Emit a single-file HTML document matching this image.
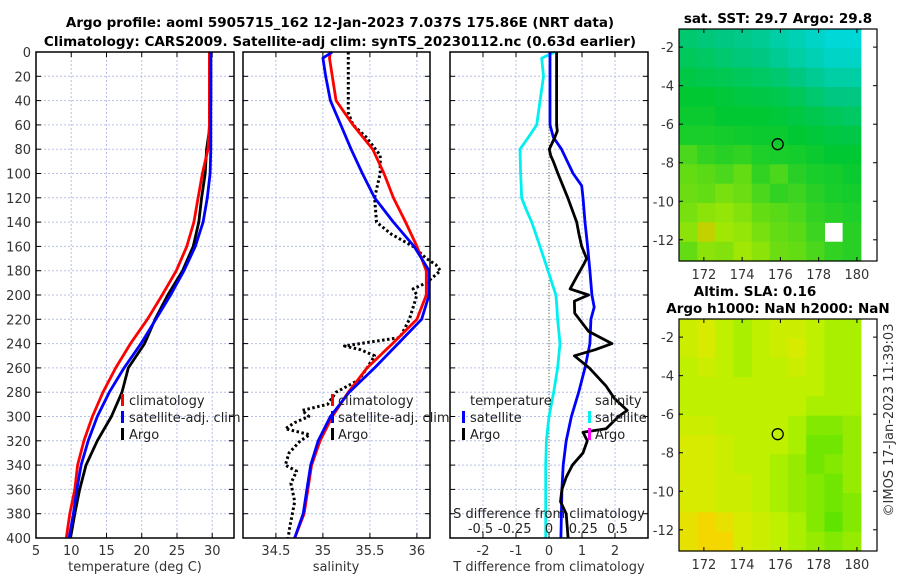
<!DOCTYPE html>
<html><head><meta charset="utf-8">
<style>
html,body{margin:0;padding:0;background:#fff;}
svg{display:block;font-family:"DejaVu Sans","Liberation Sans",sans-serif;}
.tk{font-size:13px;fill:#333;}
.ttl{font-size:13.5px;font-weight:bold;fill:#000;}
.lg{font-size:13px;fill:#222;}
</style></head>
<body>
<svg id="fig" width="900" height="580" viewBox="0 0 900 580" xmlns="http://www.w3.org/2000/svg">
<text class="ttl" x="340" y="27" text-anchor="middle">Argo profile: aoml 5905715_162 12-Jan-2023 7.037S 175.86E (NRT data)</text>
<text class="ttl" x="340" y="46" text-anchor="middle">Climatology: CARS2009. Satellite-adj clim: synTS_20230112.nc (0.63d earlier)</text>
<text class="ttl" x="778" y="23" text-anchor="middle">sat. SST: 29.7 Argo: 29.8</text>
<text class="ttl" x="755" y="296" text-anchor="middle">Altim. SLA: 0.16</text>
<text class="ttl" x="778" y="313" text-anchor="middle">Argo h1000: NaN h2000: NaN</text>
<text class="tk" x="0" y="0" transform="translate(893,420) rotate(-90)" text-anchor="middle">©IMOS 17-Jan-2023 11:39:03</text>
<g id="layer"></g>
</svg>
<script>
// ---------- data ----------
var depthsT = [0,20,40,60,80,100,120,140,160,180,200,220,240,260,280,300,320,340,360,380,400];
var tempClim = [29.6,29.6,29.6,29.6,29.4,28.6,28.0,27.4,26.4,24.9,22.9,20.8,18.4,16.3,14.5,13.0,11.8,10.9,10.5,9.8,9.3];
var tempSat  = [29.8,29.8,29.8,29.8,29.8,29.7,29.3,28.7,27.6,26.0,24.1,22.0,19.9,17.5,15.4,13.7,12.4,11.4,10.8,10.3,9.7];
var tempArgo = [29.8,29.8,29.8,29.7,29.2,29.0,28.5,28.1,27.3,25.8,23.7,21.9,20.4,18.1,17.2,15.7,13.7,12.1,11.2,10.5,9.9];

var depthsS = [0,5,20,40,60,80,100,120,140,160,180,200,220,240,260,280,300,320,340,360,380,400];
var salClim = [35.08,35.07,35.1,35.14,35.32,35.53,35.65,35.75,35.88,36.0,36.1,36.1,36.0,35.74,35.47,35.27,35.1,34.97,34.88,34.84,34.8,34.7];
var salSat  = [35.1,35.0,35.03,35.08,35.19,35.3,35.42,35.55,35.75,35.97,36.13,36.13,36.05,35.8,35.55,35.28,35.08,34.95,34.87,34.83,34.79,34.7];
var depthsSA = [0,50,60,70,85,100,120,140,150,160,170,175,180,190,195,200,220,235,242,245,250,260,270,280,290,295,300,305,310,315,320,330,340,345,355,370,390,400];
var salArgo  = [35.27,35.27,35.32,35.46,35.61,35.61,35.55,35.57,35.73,35.96,36.1,36.2,36.25,36.1,35.96,36.0,35.92,35.82,35.23,35.4,35.55,35.47,35.38,35.14,35.05,34.78,34.85,34.7,34.6,34.86,34.76,34.64,34.6,34.72,34.66,34.7,34.65,34.63];

var depthsD = [0,5,20,40,60,70,80,100,110,120,130,140,160,180,200,210,220,240,260,280,300,320,340,360,400];
var tDiffSat = [0.03,0.03,0.03,0.03,0.03,0.13,0.38,0.73,0.99,1.03,1.06,1.09,1.17,1.24,1.3,1.37,1.27,1.24,1.09,0.9,0.68,0.52,0.43,0.39,0.36];
var sDiffSat = [0.043,-0.053,-0.04,-0.065,-0.09,-0.15,-0.212,-0.207,-0.203,-0.2,-0.165,-0.126,-0.066,-0.007,0.05,0.058,0.063,0.08,0.063,0.034,0.0,-0.019,-0.024,-0.024,-0.024];
var depthsDA = [0,20,40,60,65,70,80,85,90,100,120,140,150,160,170,175,185,195,200,205,215,230,240,245,250,260,275,285,295,300,310,313,320,330,340,350,360,370,380,400];
var tDiffArgo = [0.23,0.23,0.23,0.23,0.25,0.18,0.01,0.05,0.13,0.27,0.57,0.84,0.91,0.99,1.14,1.05,0.84,0.64,1.2,0.77,0.78,1.2,1.91,1.4,0.77,1.22,1.73,1.98,2.37,2.11,1.73,1.03,1.16,1.03,0.71,0.52,0.39,0.35,0.52,0.58];

var tempTicks = [5,10,15,20,25,30];
var salTicks = [34.5,35,35.5,36];
var salTickLabels = ["34.5","35","35.5","36"];
var dTicks = [-2,-1,0,1,2];
var sdTicks = [-0.5,-0.25,0,0.25,0.5];
var sdTickLabels = ["-0.5","-0.25","0","0.25","0.5"];
var depthTicks = [0,20,40,60,80,100,120,140,160,180,200,220,240,260,280,300,320,340,360,380,400];

var lonTicks = [172,174,176,178,180];
var latTicks = [-2,-4,-6,-8,-10,-12];
var argoLon = 175.86, argoLat = -7.037;
var sstGrid = [
[29.25,29.22,29.2,29.18,29.15,29.1,29.05,29.0,28.95,28.95],
[29.3,29.28,29.25,29.22,29.2,29.15,29.1,29.05,29.0,29.0],
[29.35,29.33,29.32,29.3,29.28,29.25,29.2,29.15,29.1,29.1],
[29.4,29.4,29.38,29.36,29.35,29.33,29.3,29.25,29.2,29.2],
[29.42,29.42,29.4,29.4,29.4,29.38,29.36,29.33,29.3,29.28],
[29.45,29.45,29.44,29.43,29.42,29.42,29.4,29.38,29.36,29.35],
[29.55,29.5,29.48,29.5,29.46,29.45,29.44,29.42,29.4,29.4],
[29.6,29.58,29.55,29.6,29.5,29.55,29.48,29.45,29.44,29.42],
[29.62,29.6,29.65,29.62,29.55,29.5,29.52,29.48,29.45,29.44],
[29.65,29.7,29.72,29.68,29.6,29.58,29.55,29.5,29.48,29.46],
[29.7,29.85,29.75,29.72,29.65,29.6,29.58,29.52,null,29.48],
[29.6,29.7,29.68,29.75,29.7,29.62,29.6,29.55,29.5,29.48]];
var slaGrid = [
[.17,.18,.16,.15,.16,.17,.17,.16,.15,.15],
[.17,.18,.16,.15,.16,.17,.18,.16,.15,.15],
[.16,.17,.16,.15,.16,.16,.17,.16,.15,.15],
[.16,.16,.16,.16,.16,.16,.16,.16,.15,.15],
[.16,.16,.16,.16,.16,.16,.16,.15,.15,.15],
[.17,.17,.16,.16,.16,.16,.15,.13,.13,.14],
[.18,.18,.17,.16,.16,.16,.15,.12,.12,.14],
[.18,.18,.17,.16,.16,.15,.14,.12,.13,.14],
[.18,.18,.17,.17,.16,.15,.14,.13,.12,.14],
[.18,.18,.17,.17,.16,.15,.14,.13,.12,.13],
[.19,.20,.19,.18,.17,.16,.15,.13,.11,.13],
[.19,.20,.20,.18,.17,.16,.15,.14,.13,.14]];

// ---------- helpers ----------
var NS="http://www.w3.org/2000/svg";
var layer=document.getElementById('layer');
function mk(tag,attrs,parent){var e=document.createElementNS(NS,tag);for(var k in attrs)e.setAttribute(k,attrs[k]);(parent||layer).appendChild(e);return e;}
var TOP=52,BOT=538;
function yD(d){return TOP+(d/400)*(BOT-TOP);}
function xT(t){return 36+(t-5)*(234-36)/(33.09-5);}
function xS(s){return 243+(s-34.15)*94;}
function xD(v){return 549+v*33;}
function xSD(v){return 549+v*137;}

function panel(x0,x1,name,vx,vticks){
  var g=mk('g',{});
  
  
  depthTicks.forEach(function(d){
    if(d>0&&d<400){var l=mk('line',{x1:x0,x2:x1,y1:yD(d),y2:yD(d),stroke:'#b8c0e6','stroke-width':1,'stroke-dasharray':'2,2'},g);
    }
    mk('line',{x1:x0,x2:x0+5,y1:yD(d),y2:yD(d),stroke:'#000'},g);
    mk('line',{x1:x1-5,x2:x1,y1:yD(d),y2:yD(d),stroke:'#000'},g);
  });
  vticks.forEach(function(v){var x=vx(v);
    var l=mk('line',{x1:x,x2:x,y1:TOP,y2:BOT,stroke:'#b8c0e6','stroke-width':1,'stroke-dasharray':'2,2'},g);
    
    mk('line',{x1:x,x2:x,y1:BOT-5,y2:BOT,stroke:'#000'},g);
    mk('line',{x1:x,x2:x,y1:TOP,y2:TOP+5,stroke:'#000'},g);
  });
  return g;
}
function frame(x0,x1,name){var r=mk('rect',{x:x0,y:TOP,width:x1-x0,height:BOT-TOP,fill:'none',stroke:'#000','stroke-width':1.5});
  }
function line(xs,ds,fx,color,name,dash,w){
  var p=xs.map(function(v,i){return (i?'L':'M')+fx(v).toFixed(1)+','+yD(ds[i]).toFixed(1);}).join('');
  var a={d:p,fill:'none',stroke:color,'stroke-width':w||2.8,'stroke-linejoin':'round'};
  if(dash)a['stroke-dasharray']=dash;
  var e=mk('path',a);
  
  
  return e;
}
function text(x,y,s,cls,anchor,name){var t=mk('text',{x:x,y:y,'class':cls,'text-anchor':anchor||'start'});t.textContent=s;
  return t;}
function legMark(x,y,color,name){var r=mk('rect',{x:x,y:y-11,width:3,height:12,fill:color});
  }

// ---------- panel 1: temperature ----------
panel(36,234,'temperature-panel',xT,tempTicks.slice(1));
depthTicks.forEach(function(d){text(31,yD(d)+5,String(d),'tk','end','depth-tick-label');});
tempTicks.forEach(function(t){text(xT(t),555,String(t),'tk','middle','temp-tick-label');});
text(135,571,'temperature (deg C)','tk','middle','temperature-axis-title');
line(tempArgo,depthsT,xT,'#000','temp-argo-line');
line(tempClim,depthsT,xT,'#f00','temp-climatology-line');
line(tempSat,depthsT,xT,'#00f','temp-satellite-line');
frame(36,234,'temperature-frame');
legMark(121,405,'#f00','legend-climatology-marker');text(129,405,'climatology','lg','start','legend-climatology');
legMark(121,422,'#00f','legend-satellite-marker');text(129,422,'satellite-adj. clim','lg','start','legend-satellite-adj');
legMark(121,439,'#000','legend-argo-marker');text(129,439,'Argo','lg','start','legend-argo');

// ---------- panel 2: salinity ----------
panel(243,430,'salinity-panel',xS,salTicks);
salTicks.forEach(function(s,i){text(xS(s),555,salTickLabels[i],'tk','middle','sal-tick-label');});
text(336,571,'salinity','tk','middle','salinity-axis-title');
line(salArgo,depthsSA,xS,'#000','sal-argo-line','2.5,2.5',3);
line(salClim,depthsS,xS,'#f00','sal-climatology-line');
line(salSat,depthsS,xS,'#00f','sal-satellite-line');
frame(243,430,'salinity-frame');
legMark(331,405,'#f00','legend2-climatology-marker');text(338,405,'climatology','lg','start','legend2-climatology');
legMark(331,422,'#00f','legend2-satellite-marker');text(338,422,'satellite-adj. clim','lg','start','legend2-satellite-adj');
legMark(331,439,'#000','legend2-argo-marker');text(338,439,'Argo','lg','start','legend2-argo');

// ---------- panel 3: differences ----------
panel(450,648,'difference-panel',xD,dTicks);
dTicks.forEach(function(v){text(xD(v),555,String(v),'tk','middle','tdiff-tick-label');});
text(549,571,'T difference from climatology','tk','middle','tdiff-axis-title');
var zl=mk('line',{x1:549,x2:549,y1:TOP,y2:BOT,stroke:'#556b2f','stroke-width':1,'stroke-dasharray':'1,2'});

line(sDiffSat,depthsD,xSD,'#00f0f0','sdiff-satellite-line');
line(tDiffSat,depthsD,xD,'#00f','tdiff-satellite-line');
line(tDiffArgo,depthsDA,xD,'#000','tdiff-argo-line');
frame(450,648,'difference-frame');
text(470,405,'temperature','lg','start','legend3-temperature-heading');
legMark(462,422,'#00f','legend3-temp-satellite-marker');text(470,422,'satellite','lg','start','legend3-temp-satellite');
legMark(462,439,'#000','legend3-temp-argo-marker');text(470,439,'Argo','lg','start','legend3-temp-argo');
text(595,405,'salinity','lg','start','legend3-salinity-heading');
legMark(588,422,'#00f0f0','legend3-sal-satellite-marker');text(595,422,'satellite','lg','start','legend3-sal-satellite');
legMark(588,439,'#f0f','legend3-sal-argo-marker');text(595,439,'Argo','lg','start','legend3-sal-argo');
text(549,518,'S difference from climatology','lg','middle','sdiff-axis-title');
sdTicks.forEach(function(v,i){text(xSD(v),533,sdTickLabels[i],'lg','middle','sdiff-tick-label');});

// ---------- maps ----------
function lerp(a,b,t){return Math.round(a+(b-a)*t);}
function ramp(stops,v){
  if(v<=stops[0][0])return stops[0][1];
  for(var i=1;i<stops.length;i++){if(v<=stops[i][0]){var t=(v-stops[i-1][0])/(stops[i][0]-stops[i-1][0]);var a=stops[i-1][1],b=stops[i][1];
    return [lerp(a[0],b[0],t),lerp(a[1],b[1],t),lerp(a[2],b[2],t)];}}
  return stops[stops.length-1][1];
}
var sstStops=[[28.95,[0,215,215]],[29.2,[0,200,130]],[29.4,[0,200,50]],[29.6,[100,220,20]],[29.8,[180,235,0]],[30.0,[240,130,0]]];
var slaStops=[[0.11,[95,228,0]],[0.14,[150,235,0]],[0.16,[190,240,0]],[0.18,[215,235,0]],[0.20,[245,215,0]]];
function drawMap(y0,y1,grid,stops,name){
  var x0=679,x1=877,lonL=170.7,lonR=181.05,latT=-1.06,latB=-13.1;
  function mx(l){return x0+(l-lonL)*(x1-x0)/(lonR-lonL);}
  function my(l){return y0+(l-latT)*(y1-y0)/(latB-latT);}
  var g=mk('g',{});
  var dataR=180.2,nr=grid.length,nc=grid[0].length;
  var cw=(dataR-lonL)/nc,ch=(latB-latT)/nr;
  for(var r=0;r<nr;r++)for(var c=0;c<nc;c++){
    var v=grid[r][c]; if(v===null)continue;
    var col=ramp(stops,v);
    var xa=mx(lonL+c*cw),xb=mx(lonL+(c+1)*cw),ya=my(latT+r*ch),yb=my(latT+(r+1)*ch);
    var cell=mk('rect',{x:xa.toFixed(1),y:ya.toFixed(1),width:(xb-xa+0.6).toFixed(1),height:(yb-ya+0.6).toFixed(1),fill:'rgb('+col.join(',')+')'},g);
    
    
  }
  var fr=mk('rect',{x:x0,y:y0,width:x1-x0,height:y1-y0,fill:'none',stroke:'#000','stroke-width':1.2},g);
  
  lonTicks.forEach(function(l){var x=mx(l);mk('line',{x1:x,x2:x,y1:y1,y2:y1-4,stroke:'#000'},g);mk('line',{x1:x,x2:x,y1:y0,y2:y0+4,stroke:'#000'},g);
    text(x,y1+18,String(l),'tk','middle','lon-tick-label');});
  latTicks.forEach(function(l){var y=my(l);mk('line',{x1:x0,x2:x0+4,y1:y,y2:y,stroke:'#000'},g);mk('line',{x1:x1-4,x2:x1,y1:y,y2:y,stroke:'#000'},g);
    text(x0-5,y+5,String(l),'tk','end','lat-tick-label');});
  var c=mk('circle',{cx:mx(argoLon),cy:my(argoLat),r:5.5,fill:'none',stroke:'#000','stroke-width':1.3},g);
  
}
drawMap(29,261,sstGrid,sstStops,'sst-map');
drawMap(319,551,slaGrid,slaStops,'sla-map');
</script>
</body></html>
